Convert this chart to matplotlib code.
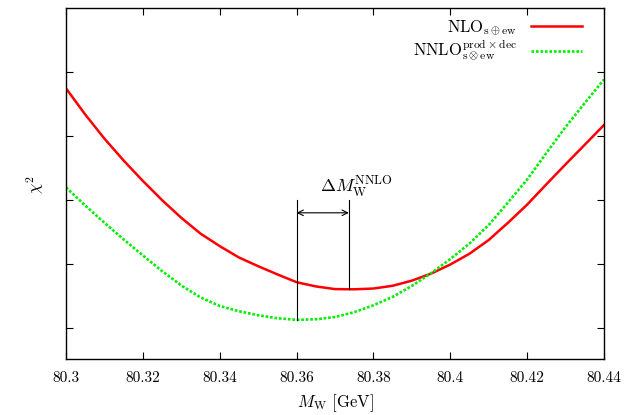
import matplotlib
matplotlib.use('Agg')
import matplotlib.pyplot as plt

plt.rcParams['font.family'] = 'serif'
plt.rcParams['font.serif'] = ['cmr10']
plt.rcParams['mathtext.fontset'] = 'cm'
plt.rcParams['axes.unicode_minus'] = False
plt.rcParams['axes.formatter.use_mathtext'] = True

# data (arbitrary chi^2 units)
mw = [80.300, 80.305, 80.310, 80.315, 80.320, 80.325, 80.330, 80.335,
      80.340, 80.345, 80.350, 80.355, 80.360, 80.365, 80.370, 80.375,
      80.380, 80.385, 80.390, 80.395, 80.400, 80.405, 80.410, 80.415,
      80.420, 80.425, 80.430, 80.435, 80.440]
chi2_nlo = [4.745, 4.336, 3.959, 3.617, 3.298, 2.998, 2.722, 2.475,
            2.280, 2.102, 1.966, 1.838, 1.716, 1.650, 1.608, 1.605,
            1.617, 1.660, 1.740, 1.850, 1.992, 2.161, 2.375, 2.644,
            2.928, 3.245, 3.558, 3.864, 4.172]
chi2_nnlo = [3.198, 2.914, 2.644, 2.384, 2.134, 1.889, 1.665, 1.478,
             1.345, 1.262, 1.200, 1.153, 1.127, 1.137, 1.172, 1.247,
             1.355, 1.487, 1.658, 1.856, 2.078, 2.320, 2.610, 2.961,
             3.320, 3.734, 4.141, 4.516, 4.883]

xtick_vals = [80.30, 80.32, 80.34, 80.36, 80.38, 80.40, 80.42, 80.44]
xtick_labels = ['80.3', '80.32', '80.34', '80.36', '80.38', '80.4', '80.42', '80.44']
ytick_vals = [1, 2, 3, 4, 5]

# annotation
min_nnlo_x, min_nnlo_y = 80.3600, 1.127
min_nlo_x, min_nlo_y = 80.3736, 1.605
ann_top = 3.0
arrow_y = 2.80

fig = plt.figure(figsize=(6.31, 4.15), dpi=100)
ax = fig.add_axes([66/631, 1-359/415, 538/631, 351/415])

ax.plot(mw, chi2_nlo, color='#ff0000', lw=1.8, solid_joinstyle='round')
ax.plot(mw, chi2_nnlo, color='#00ee00', lw=1.9, ls=(0, (1, 0.7)))

ax.plot([min_nnlo_x, min_nnlo_x], [min_nnlo_y, ann_top], color='black', lw=0.8)
ax.plot([min_nlo_x, min_nlo_x], [min_nlo_y, ann_top], color='black', lw=0.8)
ax.annotate('', xy=(min_nnlo_x, arrow_y), xytext=(min_nlo_x, arrow_y),
            arrowprops=dict(arrowstyle='<->', lw=0.8, color='black',
                            mutation_scale=10, shrinkA=0, shrinkB=0))
ax.text(80.3755, 3.11, r'$\Delta M_{\mathrm{W}}^{\mathrm{NNLO}}$', ha='center',
        va='baseline', fontsize=13)

ax.set_xlim(80.30, 80.44)
ax.set_ylim(0.516, 6.0)
ax.set_xticks(xtick_vals)
ax.set_xticklabels(xtick_labels)
ax.set_yticks(ytick_vals)
ax.set_yticklabels([])
ax.tick_params(direction='in', top=True, right=True, length=5, width=0.8,
               labelsize=11, pad=9)
for s in ax.spines.values():
    s.set_linewidth(1.0)

fig.text(335/631, 1-403/415, r'$M_{\mathrm{W}}$ [GeV]', ha='center', va='center', fontsize=12)
fig.text(35/631, 1-185/415, r'$\chi^2$', ha='center', va='center', rotation=90, fontsize=12)

# legend (manual)
ax.text(0.838, 1-(31-8)/351, r'$\mathrm{NLO}_{\mathrm{s\oplus ew}}$', transform=ax.transAxes,
        ha='right', va='baseline', fontsize=12)
ax.text(0.838, 1-(55-8)/351, r'$\mathrm{NNLO}^{\mathrm{prod\times dec}}_{\mathrm{s\otimes ew}}$',
        transform=ax.transAxes, ha='right', va='baseline', fontsize=12)
ax.plot([0.864, 0.959], [0.949, 0.949], transform=ax.transAxes, color='#ff0000', lw=1.8)
ax.plot([0.864, 0.959], [0.878, 0.878], transform=ax.transAxes, color='#00ee00', lw=1.9,
        ls=(0, (1, 0.7)))

fig.savefig('out.png', dpi=100)
